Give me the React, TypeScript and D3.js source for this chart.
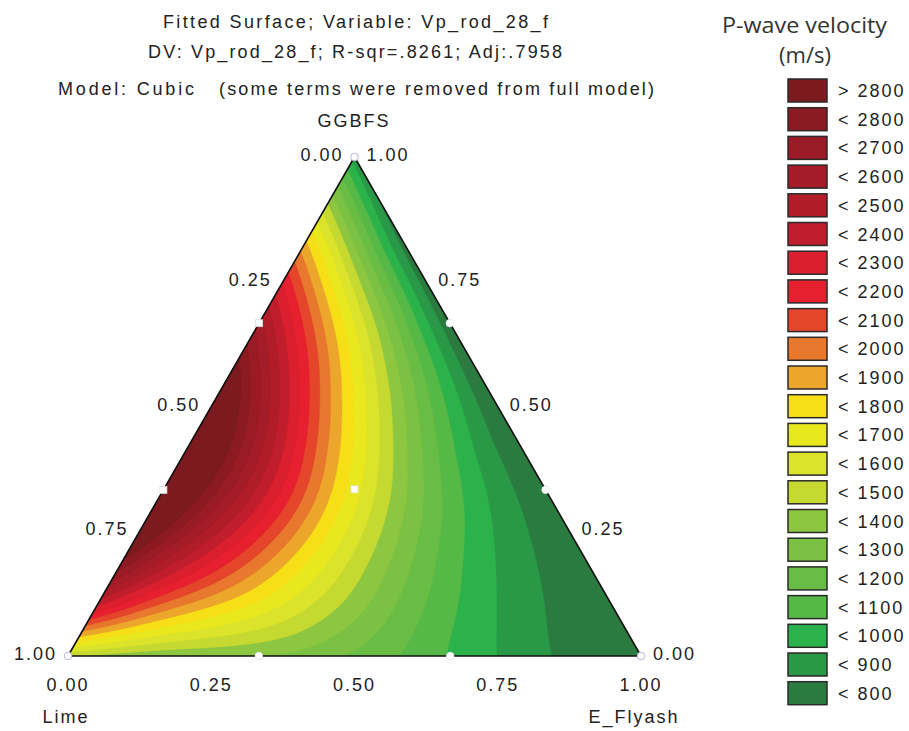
import React, { useMemo } from "react";
import * as d3 from "d3";

// ---------------- Data ----------------
const titleLine1 = "Fitted Surface; Variable: Vp_rod_28_f";
const titleLine2 = "DV: Vp_rod_28_f; R-sqr=.8261; Adj:.7958";
const titleLine3a = "Model: Cubic";
const titleLine3b = "(some terms were removed from full model)";
const apexName = "GGBFS";
const leftName = "Lime";
const rightName = "E_Flyash";

const axisTicks = [0, 0.25, 0.5, 0.75, 1];
const tickLabels = ["0.00", "0.25", "0.50", "0.75", "1.00"];

const legendTitle = ["P-wave velocity", "(m/s)"];
const legendLabels = [
  "> 2800", "< 2800", "< 2700", "< 2600", "< 2500", "< 2400", "< 2300", "< 2200",
  "< 2100", "< 2000", "< 1900", "< 1800", "< 1700", "< 1600", "< 1500", "< 1400",
  "< 1300", "< 1200", "< 1100", "< 1000", "< 900", "< 800",
];
const legendColors = [
  "#7b1a1f", "#8c1a22", "#981b25", "#a41c27", "#b01d29", "#c01e2c", "#da1f2e", "#e6202e",
  "#e4452b", "#e8782d", "#eca62b", "#f7df18", "#e9e81f", "#dbe42a", "#c5d931", "#8dc641",
  "#7bc143", "#69bd45", "#56b847", "#2bb24b", "#2a9947", "#2b7b40",
];
const contourLevels = [
  800, 900, 1000, 1100, 1200, 1300, 1400, 1500, 1600, 1700, 1800,
  1900, 2000, 2100, 2200, 2300, 2400, 2500, 2600, 2700, 2800,
];

// Velocity readings at mixture compositions (Lime, E_Flyash, GGBFS)
const sampleLime = [
  // vertices
  1, 0, 0,
  // bottom edge
  0.95, 0.86, 0.76, 0.68, 0.51, 0.33, 0.25, 0.18, 0.1,
  // left edge
  0.97, 0.93, 0.9, 0.85, 0.8, 0.7, 0.6, 0.5, 0.4, 0.333, 0.28, 0.23, 0.17, 0.11, 0.07, 0.03,
  // right edge
  0, 0, 0, 0, 0,
  // row G=0.814
  0.17, 0.127, 0.083, 0.048, 0.013,
  // row G=0.653
  0.269, 0.222, 0.164, 0.129, 0.059, 0.007,
  // row G=0.513
  0.426, 0.356, 0.312, 0.278, 0.225, 0.182, 0.112, 0.042,
  // row G=0.413
  0.519, 0.458, 0.406, 0.371, 0.341, 0.31, 0.279, 0.257, 0.179, 0.092, 0.057, 0.022,
  // row G=0.333
  0.591, 0.516, 0.446, 0.416, 0.376, 0.333, 0.294, 0.254, 0.184, 0.114, 0.062, 0.027,
  // row G=0.192
  0.761, 0.616, 0.552, 0.499, 0.412, 0.325, 0.237, 0.115, 0.028,
  // row G=0.112
  0.801, 0.626, 0.452, 0.277, 0.103,
  // row G=0.072
  0.908, 0.821, 0.734, 0.559, 0.385, 0.21, 0.088,
  // row G=0.032
  0.928, 0.841, 0.754, 0.579, 0.405, 0.23, 0.091,
];
const sampleFlyash = [
  0, 1, 0,
  0.05, 0.14, 0.24, 0.32, 0.49, 0.67, 0.75, 0.82, 0.9,
  0, 0, 0, 0, 0, 0, 0, 0, 0, 0, 0, 0, 0, 0, 0, 0,
  0.9, 0.75, 0.5, 0.25, 0.1,
  0.016, 0.059, 0.103, 0.138, 0.173,
  0.078, 0.125, 0.183, 0.218, 0.288, 0.34,
  0.061, 0.131, 0.175, 0.209, 0.262, 0.305, 0.375, 0.445,
  0.068, 0.129, 0.181, 0.216, 0.246, 0.277, 0.308, 0.33, 0.408, 0.495, 0.53, 0.565,
  0.076, 0.151, 0.221, 0.251, 0.291, 0.334, 0.373, 0.413, 0.483, 0.553, 0.605, 0.64,
  0.047, 0.192, 0.256, 0.309, 0.396, 0.483, 0.571, 0.693, 0.78,
  0.087, 0.262, 0.436, 0.611, 0.785,
  0.02, 0.107, 0.194, 0.369, 0.543, 0.718, 0.84,
  0.04, 0.127, 0.214, 0.389, 0.563, 0.738, 0.877,
];
const sampleGgbfs = [
  0, 0, 1,
  0, 0, 0, 0, 0, 0, 0, 0, 0,
  0.03, 0.07, 0.1, 0.15, 0.2, 0.3, 0.4, 0.5, 0.6, 0.667, 0.72, 0.77, 0.83, 0.89, 0.93, 0.97,
  0.1, 0.25, 0.5, 0.75, 0.9,
  0.814, 0.814, 0.814, 0.814, 0.814,
  0.653, 0.653, 0.653, 0.653, 0.653, 0.653,
  0.513, 0.513, 0.513, 0.513, 0.513, 0.513, 0.513, 0.513,
  0.413, 0.413, 0.413, 0.413, 0.413, 0.413, 0.413, 0.413, 0.413, 0.413, 0.413, 0.413,
  0.333, 0.333, 0.333, 0.333, 0.333, 0.333, 0.333, 0.333, 0.333, 0.333, 0.333, 0.333,
  0.192, 0.192, 0.192, 0.192, 0.192, 0.192, 0.192, 0.192, 0.192,
  0.112, 0.112, 0.112, 0.112, 0.112,
  0.072, 0.072, 0.072, 0.072, 0.072, 0.072, 0.072,
  0.032, 0.032, 0.032, 0.032, 0.032, 0.032, 0.032,
];
const sampleVelocity = [
  1400, 700, 850,
  1400, 1380, 1340, 1300, 1150, 950, 880, 800, 760,
  1750, 2100, 2350, 2650, 2900, 3100, 3150, 3050, 2750, 2550, 2300, 2050, 1800, 1500, 1250, 1050,
  700, 710, 730, 760, 800,
  1850, 1600, 1250, 950, 800,
  2150, 1850, 1600, 1450, 950, 760,
  2800, 2300, 2000, 1800, 1600, 1450, 1100, 850,
  2850, 2550, 2250, 2000, 1850, 1750, 1650, 1550, 1150, 850, 800, 780,
  2800, 2500, 2200, 2000, 1800, 1650, 1500, 1400, 1100, 950, 820, 760,
  2500, 2050, 1850, 1700, 1450, 1250, 1000, 840, 740,
  2000, 1800, 1450, 1050, 800,
  2050, 1800, 1700, 1500, 1150, 920, 780,
  1600, 1520, 1480, 1380, 1150, 920, 770,
];

// Experimental design points (Lime, E_Flyash, GGBFS, marker)
const designLime = [1, 0, 0, 0.667, 0.333, 0.667, 0.333, 0, 0, 0.333];
const designFlyash = [0, 1, 0, 0.333, 0.667, 0, 0, 0.667, 0.333, 0.333];
const designGgbfs = [0, 0, 1, 0, 0, 0.333, 0.667, 0.333, 0.667, 0.334];
const designMarker = ["ring", "ring", "ring", "dot", "dot", "square", "square", "dot", "dot", "square"];

// ---------------- Layout ----------------
const WIDTH = 909;
const HEIGHT = 731;
const xL = 68;
const xR = 641;
const yB = 656;
const yT = 157;
const triW = xR - xL;
const triH = yB - yT;
const FONT = "'Liberation Sans', Arial, sans-serif";

function toXY(l: number, f: number, g: number): [number, number] {
  return [xL + f * triW + (g * triW) / 2, yB - g * triH];
}

// Scheffé mixture polynomial terms
function basis(l: number, f: number, g: number): number[] {
  const a = l - f, b = l - g, c = f - g;
  return [
    l, f, g,
    l * f, l * g, f * g,
    l * f * a, l * g * b, f * g * c,
    l * f * a * a, l * g * b * b, f * g * c * c,
    l * l * f * g, l * f * f * g, l * f * g * g,
  ];
}

function solve(M: number[][]): number[] {
  const n = M.length;
  for (let c = 0; c < n; c++) {
    let p = c;
    for (let r = c + 1; r < n; r++) if (Math.abs(M[r][c]) > Math.abs(M[p][c])) p = r;
    [M[c], M[p]] = [M[p], M[c]];
    for (let r = 0; r < n; r++) {
      if (r === c) continue;
      const m = M[r][c] / M[c][c];
      if (m === 0) continue;
      for (let j = c; j <= n; j++) M[r][j] -= m * M[c][j];
    }
  }
  return M.map((row, i) => row[n] / row[i]);
}

function fitPoly(): number[] {
  const n = basis(0.3, 0.3, 0.4).length;
  const A: number[][] = Array.from({ length: n }, () => new Array(n + 1).fill(0));
  for (let k = 0; k < sampleVelocity.length; k++) {
    const l = sampleLime[k], f = sampleFlyash[k], g = sampleGgbfs[k];
    const isVertex = l === 1 || f === 1 || g === 1;
    const w = isVertex ? 8 : g === 0 ? 6 : l === 0 || f === 0 ? 3 : 1;
    const b = basis(l, f, g);
    for (let i = 0; i < n; i++) {
      for (let j = 0; j < n; j++) A[i][j] += w * b[i] * b[j];
      A[i][n] += w * b[i] * sampleVelocity[k];
    }
  }
  for (let i = 0; i < n; i++) A[i][i] += 1e-7;
  return solve(A);
}

function polyAt(coef: number[], l: number, f: number, g: number) {
  const b = basis(l, f, g);
  let v = 0;
  for (let k = 0; k < b.length; k++) v += b[k] * coef[k];
  return v;
}

const tpsKernel = (r2: number) => (r2 > 0 ? 0.5 * r2 * Math.log(r2) : 0);

// heavily smoothed thin-plate correction of the polynomial's residuals
function fitResidual(coef: number[]) {
  const n = sampleVelocity.length;
  const px: number[] = [], py: number[] = [], res: number[] = [];
  for (let k = 0; k < n; k++) {
    const l = sampleLime[k], f = sampleFlyash[k], g = sampleGgbfs[k];
    const [x, y] = toXY(l, f, g);
    px.push(x / triW);
    py.push(y / triW);
    res.push(sampleVelocity[k] - polyAt(coef, l, f, g));
  }
  const lambda = 0.06;
  const N = n + 3;
  const M: number[][] = Array.from({ length: N }, () => new Array(N + 1).fill(0));
  for (let i = 0; i < n; i++) {
    for (let j = 0; j < n; j++) {
      const dx = px[i] - px[j], dy = py[i] - py[j];
      M[i][j] = tpsKernel(dx * dx + dy * dy);
    }
    M[i][i] += lambda;
    M[i][n] = 1;
    M[i][n + 1] = px[i];
    M[i][n + 2] = py[i];
    M[n][i] = 1;
    M[n + 1][i] = px[i];
    M[n + 2][i] = py[i];
    M[i][N] = res[i];
  }
  const sol = solve(M);
  return (x: number, y: number) => {
    const qx = x / triW, qy = y / triW;
    let v = sol[n] + sol[n + 1] * qx + sol[n + 2] * qy;
    for (let i = 0; i < n; i++) {
      const dx = qx - px[i], dy = qy - py[i];
      v += sol[i] * tpsKernel(dx * dx + dy * dy);
    }
    return v;
  };
}

export default function App() {
  const { paths, baseColor } = useMemo(() => {
    const coef = fitPoly();
    const resid = fitResidual(coef);
    const step = 1.5;
    const gx0 = xL - 6;
    const gy0 = yT - 6;
    const nx = Math.ceil((triW + 12) / step);
    const ny = Math.ceil((triH + 12) / step);
    const values = new Array(nx * ny);
    for (let j = 0; j < ny; j++) {
      const y = gy0 + (j + 0.5) * step;
      const g = (yB - y) / triH;
      for (let i = 0; i < nx; i++) {
        const x = gx0 + (i + 0.5) * step;
        const f = (x - xL - (g * triW) / 2) / triW;
        const l = 1 - f - g;
        values[j * nx + i] = polyAt(coef, l, f, g) + resid(x, y);
      }
    }
    const color = d3
      .scaleThreshold<number, string>()
      .domain(contourLevels)
      .range([...legendColors].reverse());
    const contours = d3.contours().size([nx, ny]).thresholds(contourLevels)(values);
    const path = d3.geoPath(d3.geoIdentity().scale(step).translate([gx0, gy0]) as any);
    return {
      paths: contours.map((c) => ({ d: path(c as any) || "", fill: color(c.value) })),
      baseColor: color(contourLevels[0] - 1),
    };
  }, []);

  const [ax, ay] = toXY(0, 0, 1);
  const [lx, ly] = toXY(1, 0, 0);
  const [rx, ry] = toXY(0, 1, 0);
  const triPath = `M${ax},${ay}L${lx},${ly}L${rx},${ry}Z`;

  const legendX = 788;
  const legendY0 = 79;
  const legendStep = 28.7;

  return (
    <svg
      width={WIDTH}
      height={HEIGHT}
      style={{ position: "absolute", left: 0, top: 0, background: "#fff" }}
      fontFamily={FONT}
    >
      <rect x={0} y={0} width={WIDTH} height={HEIGHT} fill="#fff" />
      <defs>
        <clipPath id="tri">
          <path d={triPath} />
        </clipPath>
      </defs>

      {/* Titles */}
      <text x={163} y={28} fontSize={18} fill="#222" textLength={385} lengthAdjust="spacing">
        {titleLine1}
      </text>
      <text x={148} y={58} fontSize={18} fill="#222" textLength={414} lengthAdjust="spacing">
        {titleLine2}
      </text>
      <text x={58} y={95} fontSize={18} fill="#222" textLength={136} lengthAdjust="spacing">
        {titleLine3a}
      </text>
      <text x={219} y={95} fontSize={18} fill="#222" textLength={435} lengthAdjust="spacing">
        {titleLine3b}
      </text>
      <text x={354} y={127} fontSize={18} fill="#222" textAnchor="middle" letterSpacing={2}>
        {apexName}
      </text>

      {/* Surface */}
      <g clipPath="url(#tri)">
        <path d={triPath} fill={baseColor} />
        {paths.map((p, i) => (
          <path key={i} d={p.d} fill={p.fill} stroke={p.fill} strokeWidth={0.3} />
        ))}
      </g>
      <path d={triPath} fill="none" stroke="#111" strokeWidth={1.6} strokeLinejoin="round" />

      {/* Design points */}
      {designLime.map((l, i) => {
        const [x, y] = toXY(l, designFlyash[i], designGgbfs[i]);
        const m = designMarker[i];
        if (m === "square")
          return <rect key={i} x={x - 3.5} y={y - 3.5} width={7} height={7} fill="#fff" stroke="#ddd" strokeWidth={0.8} />;
        if (m === "ring")
          return <circle key={i} cx={x} cy={y} r={3.8} fill="#fff" stroke="#b8b8d8" strokeWidth={1} />;
        return <circle key={i} cx={x} cy={y} r={3.8} fill="#fff" stroke="#e0e0e8" strokeWidth={0.8} />;
      })}

      {/* Bottom axis (E_Flyash) */}
      {axisTicks.map((t, i) => {
        const [x] = toXY(1 - t, t, 0);
        return (
          <text key={"b" + i} x={x} y={691} fontSize={18} fill="#222" textAnchor="middle" letterSpacing={2}>
            {tickLabels[i]}
          </text>
        );
      })}
      {/* Left axis (Lime) */}
      {axisTicks.map((t, i) => {
        const [x, y] = toXY(t, 0, 1 - t);
        return (
          <text key={"l" + i} x={x - 11} y={y + 4} fontSize={18} fill="#222" textAnchor="end" letterSpacing={2}>
            {tickLabels[i]}
          </text>
        );
      })}
      {/* Right axis (GGBFS) */}
      {axisTicks.map((t, i) => {
        const [x, y] = toXY(0, 1 - t, t);
        return (
          <text key={"r" + i} x={x + 12} y={y + 4} fontSize={18} fill="#222" textAnchor="start" letterSpacing={2}>
            {tickLabels[i]}
          </text>
        );
      })}
      <text x={66} y={723} fontSize={18} fill="#222" textAnchor="middle" letterSpacing={2}>
        {leftName}
      </text>
      <text x={634} y={723} fontSize={18} fill="#222" textAnchor="middle" letterSpacing={2}>
        {rightName}
      </text>

      {/* Legend */}
      <text
        x={722}
        y={33}
        fontSize={22}
        fill="#333"
        textLength={165}
        lengthAdjust="spacingAndGlyphs"
        fontFamily="'Open Sans', 'Noto Sans', sans-serif"
      >
        {legendTitle[0]}
      </text>
      <text
        x={805}
        y={63}
        fontSize={22}
        fill="#333"
        textAnchor="middle"
        fontFamily="'Open Sans', 'Noto Sans', sans-serif"
      >
        {legendTitle[1]}
      </text>
      {legendLabels.map((lab, i) => {
        const y = legendY0 + i * legendStep;
        return (
          <g key={lab}>
            <rect x={legendX} y={y} width={39} height={23} fill={legendColors[i]} stroke="#2a2a2a" strokeWidth={1.5} />
            <text x={838} y={y + 18} fontSize={18} fill="#222" letterSpacing={2}>
              {lab}
            </text>
          </g>
        );
      })}
    </svg>
  );
}
